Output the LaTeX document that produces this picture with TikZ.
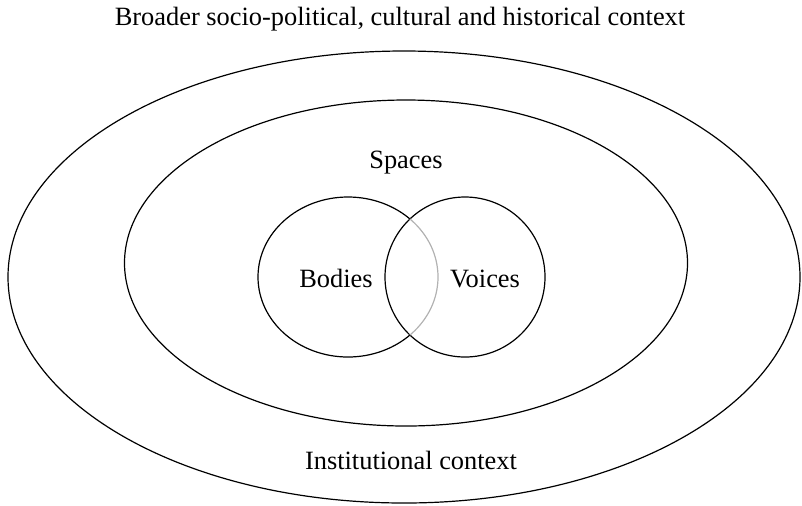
\documentclass[tikz,border=0pt]{standalone}
\usepackage{fontspec}
\setmainfont{Liberation Serif}
\usepackage{tikz}
\usetikzlibrary{positioning, shapes.geometric}

\begin{document}
\begin{tikzpicture}[
  x=0.5pt, y=-0.5pt,
  ring/.style={ellipse, draw, line width=0.6pt, inner sep=0pt, outer sep=0pt},
  lbl/.style={font=\fontsize{13.2}{15}\selectfont, inner sep=1pt, anchor=base}
]
\useasboundingbox (0,0) rectangle (802,505);

% Context rings
\node[ring, minimum width=396pt, minimum height=226pt] (outer) at (404,277) {};
\node[ring, minimum width=281.5pt, minimum height=163pt] (spaces) at (406,263) {};

% Bodies (outline drawn in two parts below) and Voices
\node[ellipse, minimum width=90pt, minimum height=80pt, inner sep=0pt] (bodies) at (348,277) {};
\node[ring, minimum width=80pt, minimum height=80pt] (voices) at (465,277) {};

% Bodies outline: black outside Voices, grey inside the overlap
\begin{scope}[even odd rule]
  \clip (0,0) rectangle (802,505) (voices.center) circle[radius=40pt];
  \draw[line width=0.6pt] (bodies.center) ellipse[x radius=45pt, y radius=40pt];
\end{scope}
\begin{scope}
  \clip (voices.center) circle[radius=40pt];
  \draw[line width=0.6pt, gray!60] (bodies.center) ellipse[x radius=45pt, y radius=40pt];
\end{scope}

% Labels (placed by baseline)
\node[lbl] (broad) at (400,25) {Broader socio-political, cultural and historical context};
\node[lbl] (spacestxt) at (406,168) {Spaces};
\node[lbl] (bodiestxt) at (336,287) {Bodies};
\node[lbl] (voicestxt) at (485,287) {Voices};
\node[lbl] (inst) at (411,469) {Institutional context};

\end{tikzpicture}
\end{document}
